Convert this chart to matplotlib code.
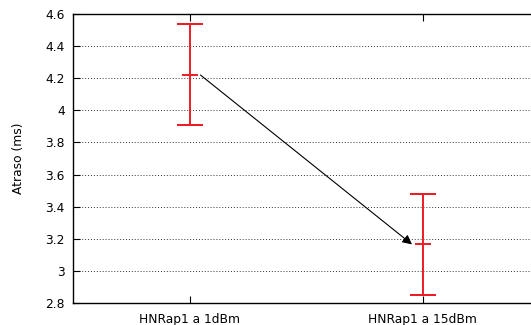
import matplotlib
matplotlib.use("Agg")
import matplotlib.pyplot as plt

categories = ["HNRap1 a 1dBm", "HNRap1 a 15dBm"]
means = [4.22, 3.165]
lows = [3.91, 2.85]
highs = [4.54, 3.48]
yticks = [2.8, 3.0, 3.2, 3.4, 3.6, 3.8, 4.0, 4.2, 4.4, 4.6]
ytick_labels = ["2.8", "3", "3.2", "3.4", "3.6", "3.8", "4", "4.2", "4.4", "4.6"]

fig = plt.figure(figsize=(5.31, 3.25), dpi=100)
W, H = 531, 325
left, right, top, bottom = 73, 539, 14, 303
ax = fig.add_axes([left / W, 1 - bottom / H, (right - left) / W, (bottom - top) / H])

xs = [1, 2]
red = "#ee1c25"
for x, m, lo, hi in zip(xs, means, lows, highs):
    ax.vlines(x, lo, hi, color=red, lw=1.4, zorder=3)
    ax.plot([x, x], [lo, lo], marker="_", ms=19, mew=1.4, color=red, zorder=3)
    ax.plot([x, x], [hi, hi], marker="_", ms=19, mew=1.4, color=red, zorder=3)
    ax.plot([x], [m], marker="_", ms=12, mew=1.4, color=red, zorder=3)

ax.annotate("", xy=(xs[1] - 0.045, means[1]), xytext=(xs[0] + 0.047, means[0]),
            arrowprops=dict(arrowstyle="-|>", color="black", lw=0.8,
                            mutation_scale=14, shrinkA=0, shrinkB=0))

ax.set_xlim(0.5, 2.5)
ax.set_ylim(2.8, 4.6)
ax.set_xticks(xs)
ax.set_xticklabels(categories, fontsize=8.8)
ax.set_yticks(yticks)
ax.set_yticklabels(ytick_labels, fontsize=8.8)
ax.tick_params(direction="in", top=True, right=False, length=5, width=0.8, pad=6)
ax.tick_params(axis="x", pad=7)
ax.grid(axis="y", linestyle=(0, (1, 2)), color="#333333", lw=0.7)
for s in ax.spines.values():
    s.set_linewidth(1.0)
ax.set_ylabel("Atraso (ms)", fontsize=8.8)
ax.yaxis.set_label_coords((25 - left) / (right - left), 0.5)

fig.savefig("out.png", dpi=100)
